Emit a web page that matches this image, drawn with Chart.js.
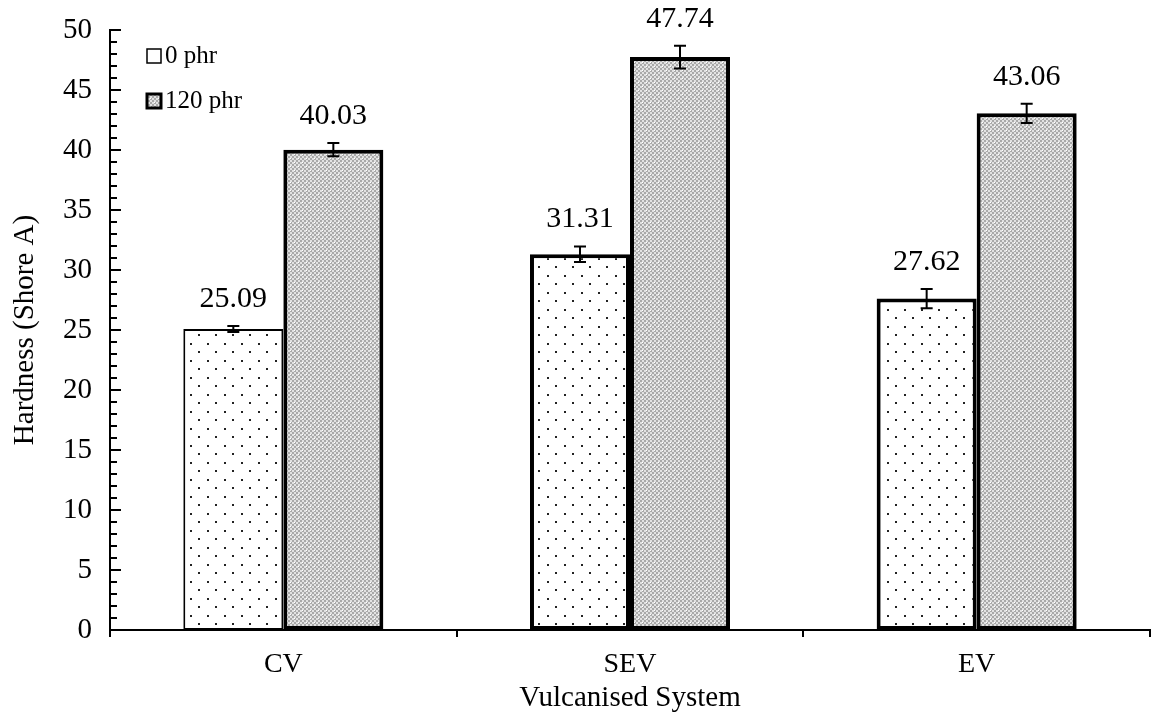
<!DOCTYPE html>
<html>
<head>
<meta charset="utf-8">
<script src="https://cdn.jsdelivr.net/npm/chart.js@4/dist/chart.umd.min.js"></script>
<style>
  body { margin: 0; background: #fff; }
  #wrap { width: 1159px; height: 716px; }
</style>
</head>
<body>
<div id="wrap"><canvas id="hardnessChart" width="1159" height="716"></canvas></div>
<script>
// Data
const systems = ['CV', 'SEV', 'EV'];
const seriesNames = ['0 phr', '120 phr'];
const hardness0 = [25.09, 31.31, 27.62];
const hardness120 = [40.03, 47.74, 43.06];
const err0 = [0.25, 0.65, 0.8];
const err120 = [0.55, 0.95, 0.8];
const yTicks = [0, 5, 10, 15, 20, 25, 30, 35, 40, 45, 50];

const serif = '"Liberation Serif", "Times New Roman", serif';

// Patterns
function dotPattern() {
  const c = document.createElement('canvas');
  c.width = 17; c.height = 17;
  const g = c.getContext('2d');
  g.fillStyle = '#fff';
  g.fillRect(0, 0, 17, 17);
  g.fillStyle = '#222';
  g.fillRect(3, 3, 2, 2);
  g.fillRect(11, 11, 2, 2);
  return g.createPattern(c, 'repeat');
}

function greyPattern() {
  const c = document.createElement('canvas');
  c.width = 8; c.height = 8;
  const g = c.getContext('2d');
  for (let y = 0; y < 8; y += 2) {
    for (let x = 0; x < 8; x += 2) {
      g.fillStyle = ((x + y) / 2) % 2 === 0 ? '#a9a9a9' : '#e2e2e2';
      g.fillRect(x, y, 2, 2);
    }
  }
  g.fillStyle = '#fff';
  g.fillRect(6, 2, 1, 1);
  g.fillRect(2, 6, 1, 1);
  return g.createPattern(c, 'repeat');
}

const fill0 = dotPattern();
const fill120 = greyPattern();

// Error bars + value labels
const errorBars = {
  id: 'errorBars',
  afterDatasetsDraw(chart) {
    const ctx = chart.ctx;
    const y = chart.scales.y;
    const errs = [err0, err120];
    chart.data.datasets.forEach((ds, di) => {
      const meta = chart.getDatasetMeta(di);
      meta.data.forEach((bar, i) => {
        const v = ds.data[i];
        const e = errs[di][i];
        const top = y.getPixelForValue(v + e);
        const bot = y.getPixelForValue(v - e);
        ctx.save();
        ctx.strokeStyle = '#000';
        ctx.lineWidth = 2;
        ctx.beginPath();
        ctx.moveTo(bar.x, top); ctx.lineTo(bar.x, bot);
        ctx.moveTo(bar.x - 6, top); ctx.lineTo(bar.x + 6, top);
        ctx.moveTo(bar.x - 6, bot); ctx.lineTo(bar.x + 6, bot);
        ctx.stroke();
        ctx.fillStyle = '#000';
        ctx.font = '30px ' + serif;
        ctx.textAlign = 'center';
        ctx.textBaseline = 'middle';
        ctx.fillText(v.toFixed(2), bar.x, top - 27);
        ctx.restore();
      });
    });
  }
};

// Minor/major inward ticks on the y axis
const yTickMarks = {
  id: 'yTickMarks',
  afterDraw(chart) {
    const ctx = chart.ctx;
    const y = chart.scales.y;
    const x0 = chart.chartArea.left;
    ctx.save();
    ctx.strokeStyle = '#000';
    ctx.lineWidth = 2;
    ctx.beginPath();
    for (let v = 0; v <= 50; v++) {
      const py = Math.round(y.getPixelForValue(v));
      const len = v % 5 === 0 ? 11 : 7;
      ctx.moveTo(x0, py); ctx.lineTo(x0 + len, py);
    }
    ctx.stroke();
    ctx.restore();
  }
};

// Legend inside plot area
const innerLegend = {
  id: 'innerLegend',
  afterDraw(chart) {
    const ctx = chart.ctx;
    const items = [
      { label: seriesNames[0], fill: '#fff', lw: 1.5, y: 56 },
      { label: seriesNames[1], fill: fill120, lw: 3, y: 101 }
    ];
    ctx.save();
    items.forEach(it => {
      ctx.fillStyle = it.fill;
      ctx.fillRect(147, it.y - 7, 14, 14);
      ctx.strokeStyle = '#000';
      ctx.lineWidth = it.lw;
      ctx.strokeRect(147, it.y - 7, 14, 14);
      ctx.fillStyle = '#000';
      ctx.font = '25px ' + serif;
      ctx.textAlign = 'left';
      ctx.textBaseline = 'middle';
      ctx.fillText(it.label, 165, it.y);
    });
    ctx.restore();
  }
};

new Chart(document.getElementById('hardnessChart'), {
  type: 'bar',
  data: {
    labels: systems,
    datasets: [
      {
        label: seriesNames[0],
        data: hardness0,
        backgroundColor: fill0,
        borderColor: '#000',
        borderWidth: [2, 4, 4],
        borderSkipped: false,
        categoryPercentage: 0.577,
        barPercentage: 1
      },
      {
        label: seriesNames[1],
        data: hardness120,
        backgroundColor: fill120,
        borderColor: '#000',
        borderWidth: 4,
        borderSkipped: false,
        categoryPercentage: 0.577,
        barPercentage: 1
      }
    ]
  },
  options: {
    responsive: false,
    animation: false,
    devicePixelRatio: 1,
    layout: { padding: { top: 30, right: 9, left: 0, bottom: 0 } },
    plugins: {
      legend: { display: false },
      tooltip: { enabled: false }
    },
    scales: {
      x: {
        grid: { display: true, drawOnChartArea: false, offset: true, tickLength: 7, color: '#000', lineWidth: 2 },
        border: { color: '#000', width: 2 },
        ticks: { color: '#000', font: { family: serif, size: 28 }, padding: 11 },
        title: { display: true, text: 'Vulcanised System', color: '#000', font: { family: serif, size: 29 }, padding: { top: 0, bottom: 0 } },
        afterFit(scale) { scale.height = 86; }
      },
      y: {
        min: 0,
        max: 50,
        afterBuildTicks(scale) { scale.ticks = yTicks.map(v => ({ value: v })); },
        grid: { display: false },
        border: { color: '#000', width: 2 },
        ticks: { color: '#000', font: { family: serif, size: 29 }, padding: 10 },
        title: { display: true, text: 'Hardness (Shore A)', color: '#000', font: { family: serif, size: 29 }, padding: { top: 8, bottom: 0 } },
        afterFit(scale) { scale.width = 110; }
      }
    }
  },
  plugins: [errorBars, yTickMarks, innerLegend]
});
</script>
</body>
</html>
